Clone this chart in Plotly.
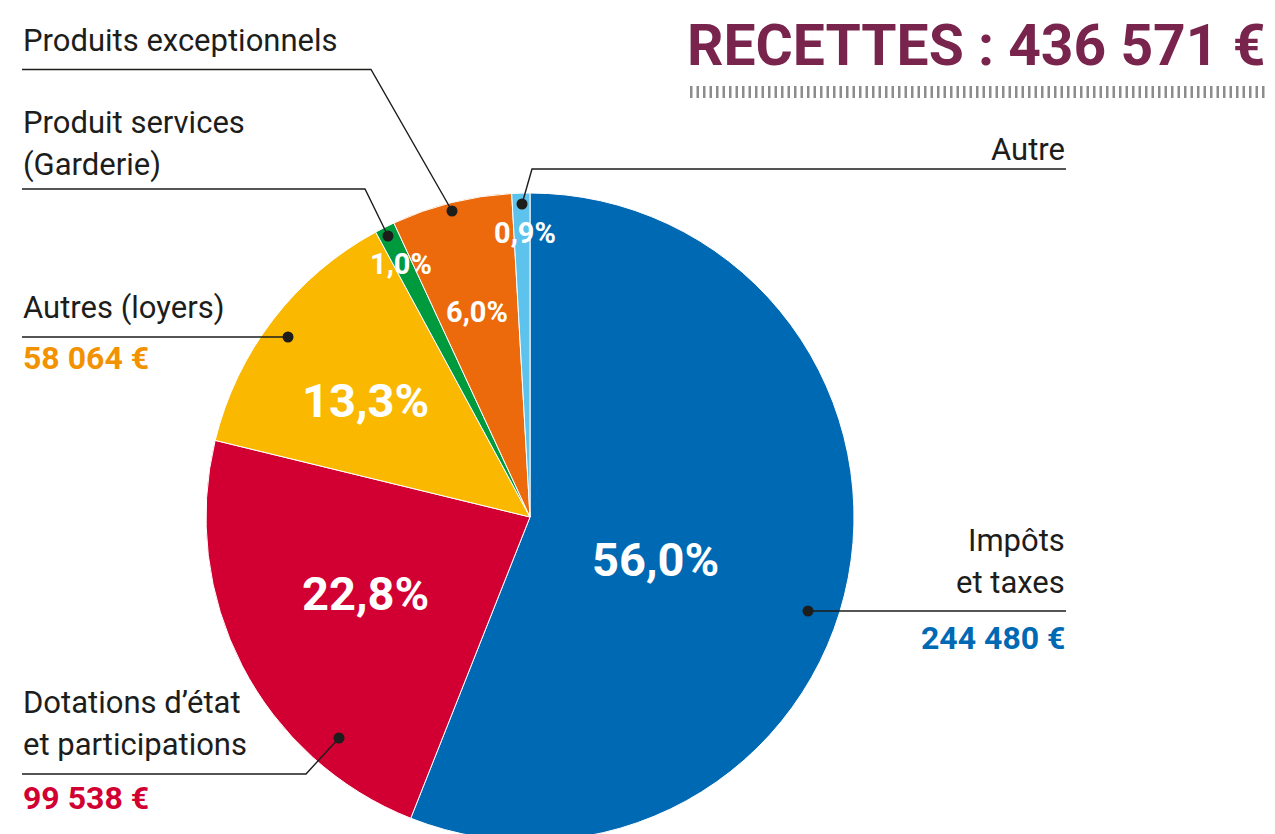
import plotly.graph_objects as go

# ---------------- data ----------------
categories = ["Impôts et taxes", "Dotations d’état et participations", "Autres (loyers)",
              "Produit services (Garderie)", "Produits exceptionnels", "Autre"]
values = [244480, 99538, 58064, 4366, 26194, 3929]
colors = ["#0069B4", "#D20032", "#FAB900", "#009A3E", "#EC6A0C", "#5DC2EC"]
total_label = "RECETTES : 436 571 €"
value_labels = ["244 480 €", "99 538 €", "58 064 €"]

W, H = 1275, 850
OFF = 8  # page body margin
FONT = "Roboto"
DARK = "#1d1d1b"


def X(px):
    return (px - OFF) / W


def Y(py):
    return 1 - (py - OFF) / H


total = sum(values)
pct = [f"{v / total * 100:.1f}".replace(".", ",") + "%" for v in values]

# pie geometry (screen pixels)
cx, cy, r = 530, 517, 324

fig = go.Figure(go.Pie(
    values=values, labels=categories, sort=False, direction="clockwise", rotation=0,
    marker=dict(colors=colors, line=dict(color="white", width=1)),
    textinfo="none", hoverinfo="label+value+percent", showlegend=False,
    domain=dict(x=[X(cx - r), X(cx + r)], y=[Y(cy + r), Y(cy - r)]),
))

annotations = []


def add_text(text, x, captop, size, color=DARK, bold=False, anchor="left"):
    annotations.append(dict(
        text=f"<b>{text}</b>" if bold else text,
        x=X(x), y=Y(captop - 0.216 * size), xref="paper", yref="paper",
        xanchor=anchor, yanchor="top", showarrow=False, borderpad=0,
        font=dict(family=FONT, size=size, color=color),
    ))


def add_center(text, x, y, size):
    annotations.append(dict(
        text=f"<b>{text}</b>", x=X(x), y=Y(y), xref="paper", yref="paper",
        xanchor="center", yanchor="middle", showarrow=False, borderpad=0,
        font=dict(family=FONT, size=size, color="white"),
    ))


# title
add_text(total_label, 1266, 23, 57, color="#78244C", bold=True, anchor="right")

# outside labels
LS = 31
VS = 32
add_text("Produits exceptionnels", 22, 28, LS)
add_text("Produit services", 22, 110, LS)
add_text("(Garderie)", 22, 152, LS)
add_text("Autres (loyers)", 22, 295, LS)
add_text(value_labels[2], 22, 345, VS, color="#F39200", bold=True)
add_text("Dotations d’état", 22, 690, LS)
add_text("et participations", 22, 732, LS)
add_text(value_labels[1], 22, 785, VS, color=colors[1], bold=True)
add_text("Autre", 1066, 137, LS, anchor="right")
add_text("Impôts", 1066, 528, LS, anchor="right")
add_text("et taxes", 1066, 570, LS, anchor="right")
add_text(value_labels[0], 1066, 625, VS, color=colors[0], bold=True, anchor="right")

# percentages inside the slices
pct_pos = [(655, 559, 47), (365, 593, 47), (365, 400, 47), (401, 264, 29), (477, 312, 29), (525, 233, 29)]
for t, (px, py, s) in zip(pct, pct_pos):
    add_center(t, px, py, s)


def path(points):
    return "M " + " L ".join(f"{X(a)},{Y(b)}" for a, b in points)


shapes = []
leaders = [
    [(22, 69.5), (371, 69.5), (452, 211)],
    [(22, 189), (365, 189), (388, 236)],
    [(1066, 169), (532, 169), (522, 204)],
    [(22, 337), (288, 337)],
    [(22, 774), (306, 774), (339, 738)],
    [(1066, 611), (808, 611)],
]
for pts in leaders:
    shapes.append(dict(type="path", path=path(pts), xref="paper", yref="paper",
                       line=dict(color=DARK, width=1.4)))
    ex, ey = pts[-1]
    rr = 5.5
    shapes.append(dict(type="circle", xref="paper", yref="paper",
                       x0=X(ex - rr), x1=X(ex + rr), y0=Y(ey + rr), y1=Y(ey - rr),
                       fillcolor=DARK, line=dict(width=0)))

# striped rule under the title
shapes.append(dict(type="line", xref="paper", yref="paper", x0=X(690), x1=X(1275),
                   y0=Y(92), y1=Y(92), line=dict(color="#8c8c8c", width=12, dash="2.5px,4px")))

fig.update_layout(
    width=W, height=H, margin=dict(l=0, r=0, t=0, b=0),
    paper_bgcolor="white", plot_bgcolor="white",
    annotations=annotations, shapes=shapes,
)

fig.write_html("out.html")
